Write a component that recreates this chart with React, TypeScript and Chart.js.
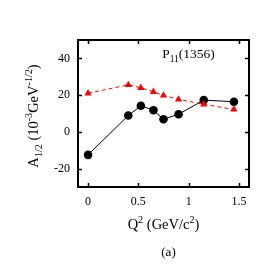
import React, { useEffect, useRef } from "react";
import { Chart, registerables } from "chart.js";

Chart.register(...registerables);

const qBlack = [0, 0.4, 0.525, 0.65, 0.75, 0.9, 1.15, 1.45];
const aBlack = [-12.5, 8.9, 14.2, 11.8, 6.9, 9.6, 17.3, 16.4];
const qRed = [0, 0.4, 0.525, 0.65, 0.75, 0.9, 1.15, 1.45];
const aRed = [21, 25.6, 24, 21.8, 19.8, 17.7, 15, 12.2];
const xTicks = [0, 0.5, 1, 1.5];
const yTicks = [-20, 0, 20, 40];
const xLabels = ["0", "0.5", "1", "1.5"];
const yLabels = ["-20", "0", "20", "40"];

const SERIF = "'Liberation Serif', 'DejaVu Serif', serif";

type Part = { t: string; s?: "sub" | "sup" };

function richWidth(ctx: CanvasRenderingContext2D, parts: Part[], size: number) {
  let w = 0;
  for (const p of parts) {
    ctx.font = `${p.s ? size * 0.7 : size}px ${SERIF}`;
    w += ctx.measureText(p.t).width;
  }
  return w;
}

function drawRich(
  ctx: CanvasRenderingContext2D,
  parts: Part[],
  x: number,
  y: number,
  size: number,
  align: "center" | "left"
) {
  const w = richWidth(ctx, parts, size);
  let cx = align === "center" ? x - w / 2 : x;
  ctx.textBaseline = "alphabetic";
  ctx.textAlign = "left";
  for (const p of parts) {
    const fs = p.s ? size * 0.7 : size;
    ctx.font = `${fs}px ${SERIF}`;
    const dy = p.s === "sub" ? size * 0.3 : p.s === "sup" ? -size * 0.4 : 0;
    ctx.fillText(p.t, cx, y + dy);
    cx += ctx.measureText(p.t).width;
  }
}

const decorPlugin = {
  id: "decor",
  afterDraw(chart: any) {
    const ctx: CanvasRenderingContext2D = chart.ctx;
    const { left, right, top, bottom } = chart.chartArea;
    const xs = chart.scales.x;
    const ys = chart.scales.y;
    ctx.save();
    ctx.strokeStyle = "#000";
    ctx.lineWidth = 1.5;
    ctx.beginPath();
    for (const v of xTicks) {
      const px = Math.round(xs.getPixelForValue(v)) + 0.5;
      ctx.moveTo(px, bottom);
      ctx.lineTo(px, bottom - 4);
      ctx.moveTo(px, top);
      ctx.lineTo(px, top + 4);
    }
    for (const v of yTicks) {
      const py = Math.round(ys.getPixelForValue(v)) + 0.5;
      ctx.moveTo(left, py);
      ctx.lineTo(left + 4, py);
      ctx.moveTo(right, py);
      ctx.lineTo(right - 4, py);
    }
    ctx.stroke();
    ctx.lineWidth = 2;
    ctx.strokeRect(left, top, right - left, bottom - top);

    ctx.fillStyle = "#000";
    // inner label
    drawRich(ctx, [{ t: "P" }, { t: "11", s: "sub" }, { t: "(1356)" }], 188.5, 58, 13.5, "center");
    // x title
    drawRich(
      ctx,
      [{ t: "Q" }, { t: "2", s: "sup" }, { t: " (GeV/c" }, { t: "2", s: "sup" }, { t: ")" }],
      (left + right) / 2,
      229,
      14.5,
      "center"
    );
    // (a)
    drawRich(ctx, [{ t: "(a)" }], 168.5, 256, 13, "center");
    // y title
    ctx.save();
    ctx.translate(38, 116);
    ctx.rotate(-Math.PI / 2);
    drawRich(
      ctx,
      [
        { t: "A" },
        { t: "1/2", s: "sub" },
        { t: " (10" },
        { t: "-3", s: "sup" },
        { t: "GeV" },
        { t: "-1/2", s: "sup" },
        { t: ")" },
      ],
      0,
      0,
      14.5,
      "center"
    );
    ctx.restore();
    ctx.restore();
  },
};

export default function App() {
  const ref = useRef<HTMLCanvasElement | null>(null);
  useEffect(() => {
    if (!ref.current) return;
    const chart = new Chart(ref.current, {
      type: "line",
      data: {
        datasets: [
          {
            data: qRed.map((q, i) => ({ x: q, y: aRed[i] })),
            borderColor: "#ff0000",
            backgroundColor: "#ff0000",
            borderWidth: 1,
            borderDash: [4, 3],
            pointStyle: "triangle",
            pointRadius: 4.2,
            pointBorderWidth: 0,
            showLine: true,
          },
          {
            data: qBlack.map((q, i) => ({ x: q, y: aBlack[i] })),
            borderColor: "#000",
            backgroundColor: "#000",
            borderWidth: 1,
            pointStyle: "circle",
            pointRadius: 4.3,
            pointBorderWidth: 0,
            showLine: true,
          },
        ],
      },
      options: {
        animation: false,
        responsive: false,
        devicePixelRatio: 1,
        layout: { padding: { left: 0, top: 40, right: 24, bottom: 0 } },
        plugins: { legend: { display: false }, tooltip: { enabled: false } },
        scales: {
          x: {
            type: "linear",
            min: -0.1,
            max: 1.6,
            grid: { display: false, drawTicks: false },
            border: { display: false },
            afterBuildTicks: (s: any) => {
              s.ticks = xTicks.map((v) => ({ value: v }));
            },
            afterFit: (s: any) => {
              s.height = 87;
            },
            ticks: {
              autoSkip: false,
              maxRotation: 0,
              padding: 8,
              color: "#000",
              font: { family: SERIF, size: 12 },
              callback: (v: any) => xLabels[xTicks.indexOf(Number(v))] ?? "",
            },
          },
          y: {
            type: "linear",
            min: -30,
            max: 50,
            grid: { display: false, drawTicks: false },
            border: { display: false },
            afterBuildTicks: (s: any) => {
              s.ticks = yTicks.map((v) => ({ value: v }));
            },
            afterFit: (s: any) => {
              s.width = 78;
            },
            ticks: {
              autoSkip: false,
              padding: 8,
              color: "#000",
              font: { family: SERIF, size: 12 },
              callback: (v: any) => yLabels[yTicks.indexOf(Number(v))] ?? "",
            },
          },
        },
      } as any,
      plugins: [decorPlugin],
    });
    return () => chart.destroy();
  }, []);
  return (
    <div style={{ position: "absolute", left: 0, top: 0, width: 273, height: 274, background: "#fff" }}>
      <canvas ref={ref} width={273} height={274} style={{ width: 273, height: 274, display: "block" }} />
    </div>
  );
}
